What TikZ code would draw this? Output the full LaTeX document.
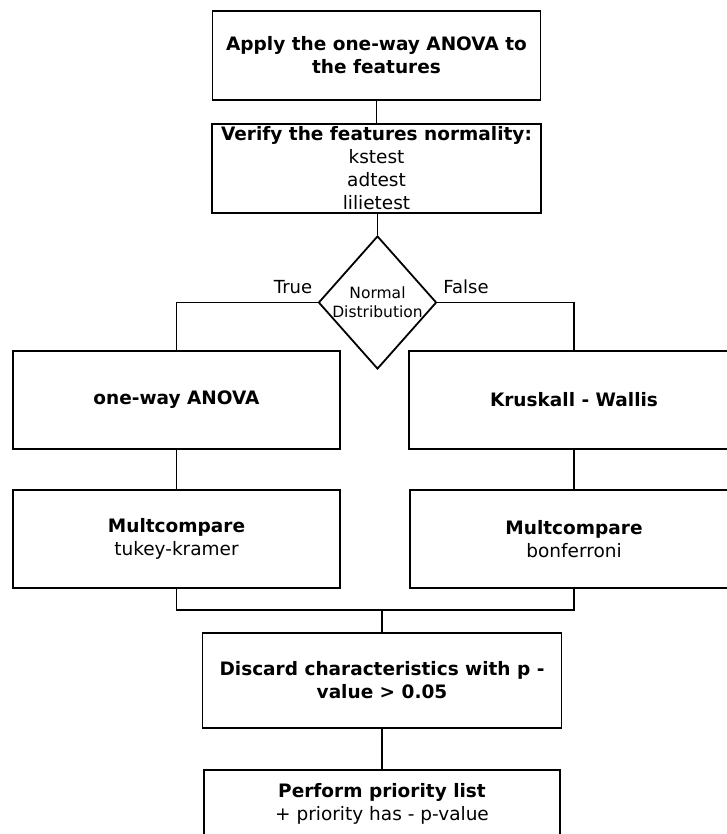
\documentclass[tikz,border=0pt]{standalone}
\usepackage{fontspec}
\setmainfont{DejaVu Sans}
\usetikzlibrary{shapes.geometric}
\begin{document}
\begin{tikzpicture}[x=1pt,y=-1pt,
  box/.style={draw, line width=1.8pt, inner sep=0pt, align=center, font=\fontsize{18.5}{23}\selectfont},
  conn/.style={line width=1.8pt},
  lbl/.style={inner sep=0pt, font=\fontsize{18}{22}\selectfont}]
\useasboundingbox (0,0) rectangle (726,834);
\node[box, minimum width=328, minimum height=89] (b1) at (376.5,55.5) {\textbf{Apply the one-way ANOVA to}\\\textbf{the features}};
\node[box, minimum width=329, minimum height=89] (b2) at (376.5,168.5) {\textbf{Verify the features normality:}\\kstest\\adtest\\lilietest};
\node[draw, diamond, line width=1.8pt, minimum width=118, minimum height=133, inner sep=0pt] (d) at (377.5,302.5) {};
\node[inner sep=0pt, align=center, font=\fontsize{15.5}{19}\selectfont] (dt) at (d.center) {Normal\\Distribution};
\node[box, minimum width=327, minimum height=98] (b3l) at (176.5,400) {\textbf{one-way ANOVA}};
\node[box, minimum width=330, minimum height=98] (b3r) at (574,400) {\textbf{Kruskall - Wallis}};
\node[box, minimum width=327, minimum height=98] (b4l) at (176.5,539) {\textbf{Multcompare}\\tukey-kramer};
\node[box, minimum width=328, minimum height=98] (b4r) at (574,539) {\textbf{Multcompare}\\bonferroni};
\node[box, minimum width=359, minimum height=95] (b5) at (382,680.5) {\textbf{Discard characteristics with p -}\\\textbf{value > 0.05}};
\node[box, minimum width=356, minimum height=68] (b6) at (382,804) {\textbf{Perform priority list}\\+ priority has - p-value};
\node[lbl] (tl) at (293,287) {True};
\node[lbl] (fl) at (466,287) {False};
\coordinate (m) at (382,610);
\draw[conn] (b1.south) -- (b2.north);
\draw[conn] (d.north |- b2.south) -- (d.north);
\draw[conn] (d.west) -| (b3l.north);
\draw[conn] (d.east) -| (b3r.north);
\draw[conn] (b3l.south) -- (b4l.north);
\draw[conn] (b3r.south) -- (b4r.north);
\draw[conn] (b4l.south) |- (m) -| (b4r.south);
\draw[conn] (m) -- (b5.north);
\draw[conn] (b5.south) -- (b6.north);
\end{tikzpicture}
\end{document}
